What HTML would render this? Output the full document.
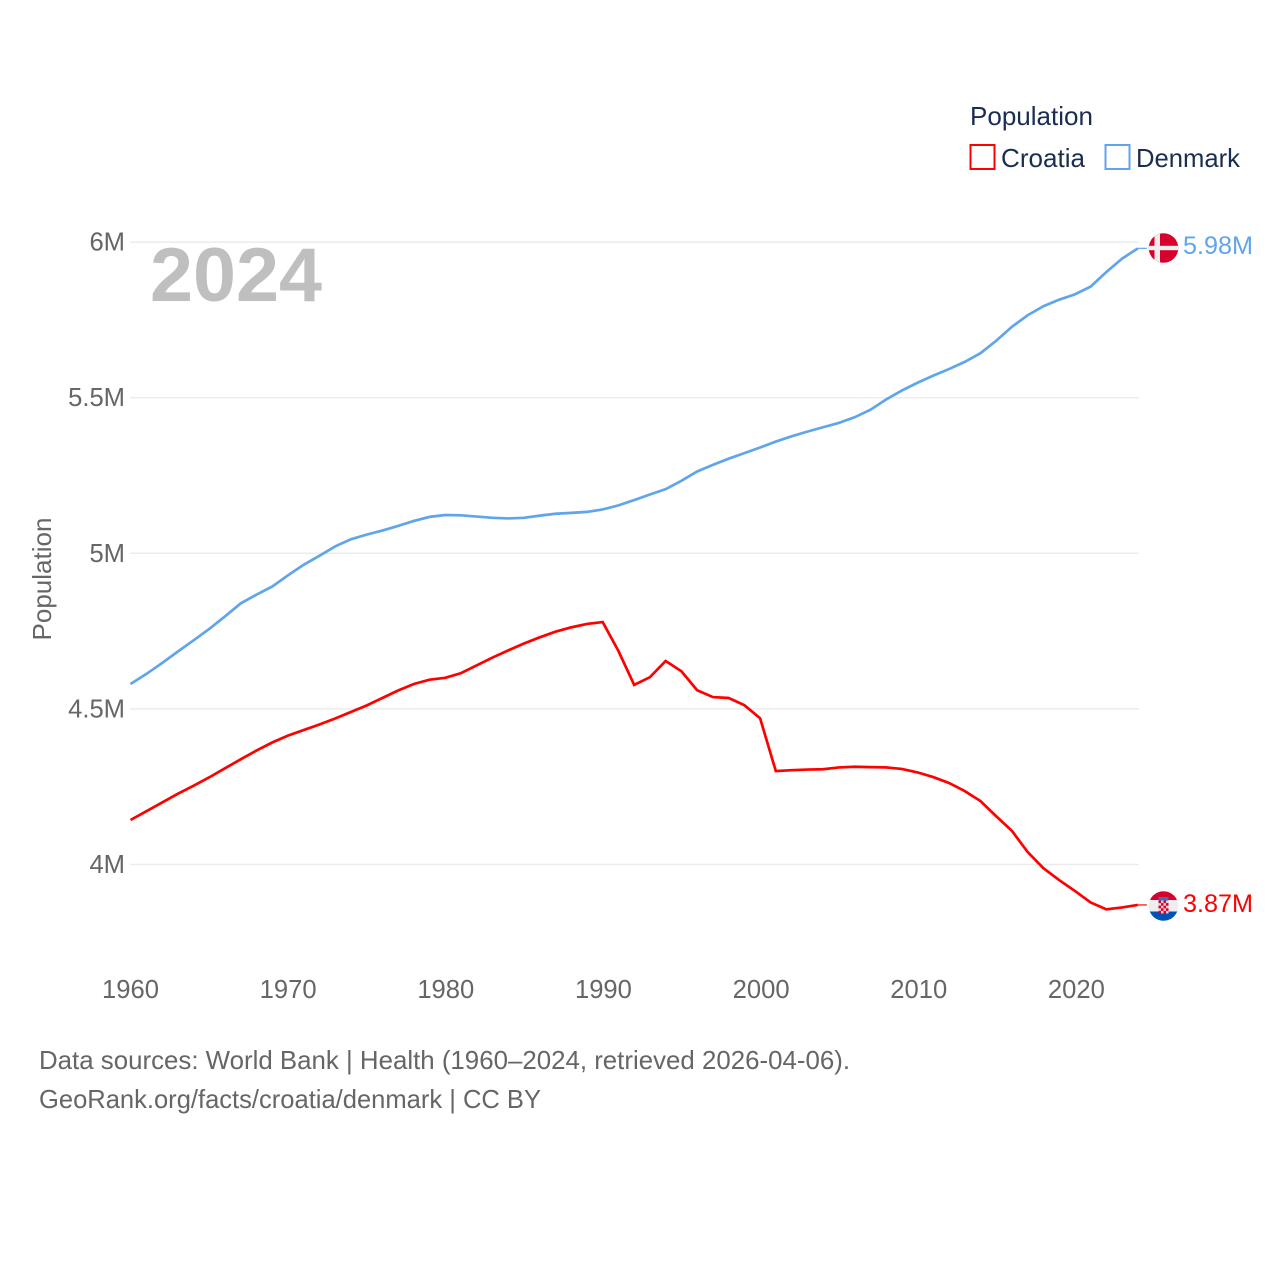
<!DOCTYPE html>
<html lang="en">
<head>
<meta charset="utf-8">
<title>Population: Croatia and Denmark</title>
<style>
html,body{margin:0;padding:0;background:#fff;width:1280px;height:1280px;overflow:hidden}
svg{display:block}
text{font-family:"Liberation Sans",sans-serif}
</style>
</head>
<body>
<svg id="chart" xmlns="http://www.w3.org/2000/svg" width="1280" height="1280" viewBox="0 0 1280 1280">
  <defs>
    <clipPath id="clip-dk"><circle cx="1163.5" cy="248" r="14.8"/></clipPath>
    <clipPath id="clip-hr"><circle cx="1163.5" cy="906" r="14.8"/></clipPath>
  </defs>
  <g id="grid"></g>
  <g id="yticks"></g>
  <g id="xticks"></g>
  <g id="series"></g>

  <text x="150" y="301" font-size="76" font-weight="700" fill="#bfbfbf" textLength="172" lengthAdjust="spacingAndGlyphs">2024</text>

  <text transform="translate(51,579) rotate(-90)" text-anchor="middle" font-size="26" fill="#666666" textLength="123" lengthAdjust="spacingAndGlyphs">Population</text>

  <g>
    <text x="970" y="125" font-size="26" fill="#1a2e50" textLength="123" lengthAdjust="spacingAndGlyphs">Population</text>
    <rect x="970.5" y="145" width="24" height="24" fill="none" stroke="#ff0000" stroke-width="2"/>
    <text x="1001" y="167" font-size="26" fill="#1a2e50" textLength="84" lengthAdjust="spacingAndGlyphs">Croatia</text>
    <rect x="1105.5" y="145" width="24" height="24" fill="none" stroke="#60a5ec" stroke-width="2"/>
    <text x="1136" y="167" font-size="26" fill="#1a2e50" textLength="104" lengthAdjust="spacingAndGlyphs">Denmark</text>
  </g>

  <g clip-path="url(#clip-dk)">
    <rect x="1148" y="233" width="31" height="30" fill="#d8002c"/>
    <rect x="1154.5" y="233" width="5.5" height="30" fill="#eeeeee"/>
    <rect x="1148" y="245.8" width="31" height="4.4" fill="#eeeeee"/>
  </g>
  <text x="1183" y="254" font-size="25.2" fill="#60a5ec" textLength="70" lengthAdjust="spacingAndGlyphs">5.98M</text>

  <g clip-path="url(#clip-hr)">
    <rect x="1148" y="891" width="31" height="10" fill="#d8002c"/>
    <rect x="1148" y="900" width="31" height="12" fill="#eeeeee"/>
    <rect x="1148" y="911.5" width="31" height="10" fill="#0052b4"/>
    <rect x="1158.5" y="897" width="10" height="3.5" fill="#3f6fb5"/>
    <rect x="1158.5" y="900.5" width="10" height="13" fill="#f4c9cf"/>
    <g fill="#d8002c">
      <rect x="1158.5" y="900.5" width="2.5" height="2.6"/><rect x="1163.5" y="900.5" width="2.5" height="2.6"/>
      <rect x="1161" y="903.1" width="2.5" height="2.6"/><rect x="1166" y="903.1" width="2.5" height="2.6"/>
      <rect x="1158.5" y="905.7" width="2.5" height="2.6"/><rect x="1163.5" y="905.7" width="2.5" height="2.6"/>
      <rect x="1161" y="908.3" width="2.5" height="2.6"/><rect x="1166" y="908.3" width="2.5" height="2.6"/>
      <rect x="1158.5" y="910.9" width="2.5" height="2.6"/><rect x="1163.5" y="910.9" width="2.5" height="2.6"/>
    </g>
  </g>
  <text x="1183" y="912" font-size="25.2" fill="#ff0000" textLength="70" lengthAdjust="spacingAndGlyphs">3.87M</text>

  <text x="39" y="1069" font-size="26" fill="#666666" textLength="811" lengthAdjust="spacingAndGlyphs">Data sources: World Bank | Health (1960–2024, retrieved 2026-04-06).</text>
  <text x="39" y="1108" font-size="26" fill="#666666" textLength="502" lengthAdjust="spacingAndGlyphs">GeoRank.org/facts/croatia/denmark | CC BY</text>
</svg>
<script>
const startYear = 1960;
const denmarkValues = [4.580,4.612,4.647,4.684,4.720,4.757,4.797,4.839,4.867,4.893,4.929,4.963,4.992,5.022,5.045,5.060,5.073,5.088,5.104,5.117,5.123,5.122,5.118,5.114,5.112,5.114,5.121,5.127,5.130,5.133,5.141,5.154,5.171,5.189,5.206,5.233,5.263,5.284,5.304,5.322,5.340,5.359,5.376,5.391,5.405,5.419,5.437,5.461,5.494,5.523,5.548,5.571,5.592,5.615,5.643,5.683,5.728,5.765,5.794,5.815,5.832,5.857,5.904,5.947,5.980];
const croatiaValues = [4.143,4.171,4.199,4.227,4.253,4.280,4.309,4.338,4.366,4.392,4.414,4.432,4.450,4.469,4.490,4.511,4.535,4.559,4.580,4.594,4.600,4.615,4.640,4.665,4.688,4.710,4.730,4.748,4.762,4.773,4.779,4.686,4.577,4.602,4.654,4.621,4.560,4.538,4.535,4.512,4.470,4.300,4.303,4.305,4.306,4.312,4.314,4.313,4.312,4.307,4.296,4.281,4.262,4.236,4.204,4.155,4.108,4.040,3.988,3.950,3.915,3.878,3.856,3.862,3.870];
const yTickValues = [4,4.5,5,5.5,6];
const yTickLabels = ["4M","4.5M","5M","5.5M","6M"];
const xTickYears = [1960,1970,1980,1990,2000,2010,2020];

const SVG_NS = "http://www.w3.org/2000/svg";
function xScale(year){ return 130.5 + (year - 1960) * 15.74; }
function yScale(value){ return 864.5 - (value - 4) * 311.2; }

const gridGroup = document.getElementById("grid");
const yTickGroup = document.getElementById("yticks");
const xTickGroup = document.getElementById("xticks");
const seriesGroup = document.getElementById("series");

yTickValues.forEach(function(v, i){
  const line = document.createElementNS(SVG_NS, "line");
  line.setAttribute("x1", 130);
  line.setAttribute("x2", 1139);
  line.setAttribute("y1", yScale(v));
  line.setAttribute("y2", yScale(v));
  line.setAttribute("stroke", "#ececec");
  line.setAttribute("stroke-width", "1.5");
  
  
  gridGroup.appendChild(line);

  const label = document.createElementNS(SVG_NS, "text");
  label.setAttribute("x", 125);
  label.setAttribute("y", yScale(v) + 8.5);
  label.setAttribute("text-anchor", "end");
  label.setAttribute("font-size", "25.6");
  label.setAttribute("fill", "#666666");
  label.textContent = yTickLabels[i];
  
  
  yTickGroup.appendChild(label);
});

xTickYears.forEach(function(year){
  const label = document.createElementNS(SVG_NS, "text");
  label.setAttribute("x", xScale(year) + (year - 1960) * 0.025);
  label.setAttribute("y", 998);
  label.setAttribute("text-anchor", "middle");
  label.setAttribute("font-size", "25.6");
  label.setAttribute("fill", "#666666");
  label.textContent = String(year);
  
  
  xTickGroup.appendChild(label);
});

function drawSeries(values, color, lineName, connectorName){
  const pts = values.map(function(v, i){
    return xScale(startYear + i).toFixed(2) + "," + yScale(v).toFixed(2);
  });
  const path = document.createElementNS(SVG_NS, "polyline");
  path.setAttribute("points", pts.join(" "));
  path.setAttribute("fill", "none");
  path.setAttribute("stroke", color);
  path.setAttribute("stroke-width", "2.7");
  path.setAttribute("stroke-linejoin", "miter");
  
  
  seriesGroup.appendChild(path);

  const last = values[values.length - 1];
  const lastX = xScale(startYear + values.length - 1);
  const conn = document.createElementNS(SVG_NS, "line");
  conn.setAttribute("x1", lastX);
  conn.setAttribute("x2", lastX + 9);
  conn.setAttribute("y1", yScale(last));
  conn.setAttribute("y2", yScale(last));
  conn.setAttribute("stroke", color);
  conn.setAttribute("stroke-width", "1.2");
  
  
  seriesGroup.appendChild(conn);
}
drawSeries(croatiaValues, "#ff0000", "croatia-line", "croatia-connector");
drawSeries(denmarkValues, "#60a5ec", "denmark-line", "denmark-connector");
</script>
</body>
</html>
